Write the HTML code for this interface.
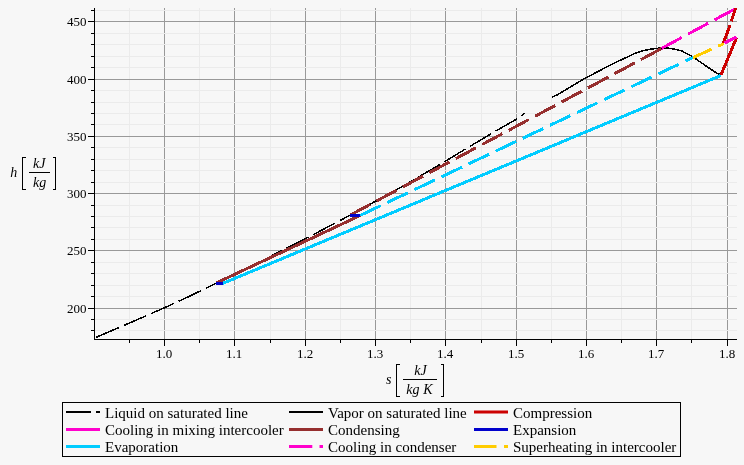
<!DOCTYPE html>
<html><head><meta charset="utf-8"><title>h-s diagram</title>
<style>html,body{margin:0;padding:0;background:#f7f7f7;}body{width:744px;height:465px;overflow:hidden;font-family:"Liberation Serif",serif;}svg{display:block;will-change:transform;opacity:0.999;}text{font-family:"Liberation Serif",serif;fill:#000;}</style>
</head><body>
<svg width="744" height="465" viewBox="0 0 744 465">
<rect x="0" y="0" width="744" height="465" fill="#f7f7f7"/>
<g stroke-width="1" shape-rendering="crispEdges">
<line x1="129.50" y1="8" x2="129.50" y2="339.5" stroke="#ebebeb"/>
<line x1="199.50" y1="8" x2="199.50" y2="339.5" stroke="#ebebeb"/>
<line x1="270.50" y1="8" x2="270.50" y2="339.5" stroke="#ebebeb"/>
<line x1="340.50" y1="8" x2="340.50" y2="339.5" stroke="#ebebeb"/>
<line x1="410.50" y1="8" x2="410.50" y2="339.5" stroke="#ebebeb"/>
<line x1="481.50" y1="8" x2="481.50" y2="339.5" stroke="#ebebeb"/>
<line x1="551.50" y1="8" x2="551.50" y2="339.5" stroke="#ebebeb"/>
<line x1="621.50" y1="8" x2="621.50" y2="339.5" stroke="#ebebeb"/>
<line x1="691.50" y1="8" x2="691.50" y2="339.5" stroke="#ebebeb"/>
<line x1="164.50" y1="8" x2="164.50" y2="339.5" stroke="#999999"/>
<line x1="234.50" y1="8" x2="234.50" y2="339.5" stroke="#999999"/>
<line x1="305.50" y1="8" x2="305.50" y2="339.5" stroke="#999999"/>
<line x1="375.50" y1="8" x2="375.50" y2="339.5" stroke="#999999"/>
<line x1="445.50" y1="8" x2="445.50" y2="339.5" stroke="#999999"/>
<line x1="516.50" y1="8" x2="516.50" y2="339.5" stroke="#999999"/>
<line x1="586.50" y1="8" x2="586.50" y2="339.5" stroke="#999999"/>
<line x1="656.50" y1="8" x2="656.50" y2="339.5" stroke="#999999"/>
<line x1="727.50" y1="8" x2="727.50" y2="339.5" stroke="#999999"/>
<line x1="94.5" y1="330.50" x2="737" y2="330.50" stroke="#ebebeb"/>
<line x1="94.5" y1="319.50" x2="737" y2="319.50" stroke="#ebebeb"/>
<line x1="94.5" y1="296.50" x2="737" y2="296.50" stroke="#ebebeb"/>
<line x1="94.5" y1="285.50" x2="737" y2="285.50" stroke="#ebebeb"/>
<line x1="94.5" y1="273.50" x2="737" y2="273.50" stroke="#ebebeb"/>
<line x1="94.5" y1="262.50" x2="737" y2="262.50" stroke="#ebebeb"/>
<line x1="94.5" y1="239.50" x2="737" y2="239.50" stroke="#ebebeb"/>
<line x1="94.5" y1="227.50" x2="737" y2="227.50" stroke="#ebebeb"/>
<line x1="94.5" y1="216.50" x2="737" y2="216.50" stroke="#ebebeb"/>
<line x1="94.5" y1="205.50" x2="737" y2="205.50" stroke="#ebebeb"/>
<line x1="94.5" y1="182.50" x2="737" y2="182.50" stroke="#ebebeb"/>
<line x1="94.5" y1="170.50" x2="737" y2="170.50" stroke="#ebebeb"/>
<line x1="94.5" y1="159.50" x2="737" y2="159.50" stroke="#ebebeb"/>
<line x1="94.5" y1="147.50" x2="737" y2="147.50" stroke="#ebebeb"/>
<line x1="94.5" y1="124.50" x2="737" y2="124.50" stroke="#ebebeb"/>
<line x1="94.5" y1="113.50" x2="737" y2="113.50" stroke="#ebebeb"/>
<line x1="94.5" y1="102.50" x2="737" y2="102.50" stroke="#ebebeb"/>
<line x1="94.5" y1="90.50" x2="737" y2="90.50" stroke="#ebebeb"/>
<line x1="94.5" y1="67.50" x2="737" y2="67.50" stroke="#ebebeb"/>
<line x1="94.5" y1="56.50" x2="737" y2="56.50" stroke="#ebebeb"/>
<line x1="94.5" y1="44.50" x2="737" y2="44.50" stroke="#ebebeb"/>
<line x1="94.5" y1="33.50" x2="737" y2="33.50" stroke="#ebebeb"/>
<line x1="94.5" y1="10.50" x2="737" y2="10.50" stroke="#ebebeb"/>
<line x1="94.5" y1="308.50" x2="737" y2="308.50" stroke="#999999"/>
<line x1="94.5" y1="250.50" x2="737" y2="250.50" stroke="#999999"/>
<line x1="94.5" y1="193.50" x2="737" y2="193.50" stroke="#999999"/>
<line x1="94.5" y1="136.50" x2="737" y2="136.50" stroke="#999999"/>
<line x1="94.5" y1="79.50" x2="737" y2="79.50" stroke="#999999"/>
<line x1="94.5" y1="21.50" x2="737" y2="21.50" stroke="#999999"/>
</g>
<g shape-rendering="crispEdges">
<path d="M96.25,337.25 L130.00,322.80 L164.60,307.70 L190.00,296.00 L216.20,283.20 L250.00,266.80 L287.50,247.70 L313.30,234.60 L334.80,223.30 L350.00,215.30 L376.00,201.00 L403.75,185.60 L438.75,165.20 L465.00,149.30 L490.30,134.20 L516.80,118.90 L524.70,113.30" fill="none" stroke="#000" stroke-width="1.5" stroke-dasharray="24.7 5.3"/>
<path d="M552.00,97.10 L557.70,94.60 L570.00,87.20 L583.00,79.40 L604.50,68.10 L610.00,65.30 L620.00,60.40 L626.10,57.60 L634.20,53.60 L642.30,50.90 L650.30,49.20 L658.40,48.20 L661.60,47.90 L666.00,48.00 L671.30,48.50 L677.70,49.80 L682.60,51.20 L685.80,53.20 L690.60,55.40 L693.00,56.60 L696.30,59.20 L700.30,62.10 L706.80,66.50 L713.20,70.80 L717.30,73.40 L720.50,74.30" fill="none" stroke="#000" stroke-width="1.5" stroke-linejoin="round"/>
<line x1="223" y1="283.3" x2="721" y2="75.5" stroke="#00ccff" stroke-width="3"/>
<line x1="360.2" y1="215.4" x2="693" y2="57.5" stroke="#00ccff" stroke-width="3" stroke-dasharray="22.6 7.4"/>
<line x1="691" y1="58.5" x2="724" y2="43.6" stroke="#ffcc00" stroke-width="3" stroke-dasharray="22.5 7.5"/>
<line x1="685.8" y1="60.9" x2="693" y2="57.5" stroke="#00ccff" stroke-width="3"/>
<line x1="216.2" y1="283.0" x2="360.4" y2="215.4" stroke="#962f2f" stroke-width="3"/>
<line x1="350" y1="215.2" x2="661.5" y2="48.6" stroke="#962f2f" stroke-width="3" stroke-dasharray="22.9 7.1"/>
<line x1="661.7" y1="48.3" x2="735.5" y2="8.6" stroke="#ff00cc" stroke-width="3" stroke-dasharray="22.9 7.1"/>
<line x1="720.9" y1="75.2" x2="736.7" y2="37.2" stroke="#cc0000" stroke-width="3"/>
<line x1="723.5" y1="42.9" x2="730" y2="25.3" stroke="#cc0000" stroke-width="3"/>
<line x1="731.3" y1="21.4" x2="735.7" y2="8.1" stroke="#cc0000" stroke-width="3"/>
<line x1="724.6" y1="43.1" x2="736.6" y2="36.9" stroke="#ff00cc" stroke-width="3"/>
<rect x="216" y="282" width="7.3" height="3" fill="#0000cc"/>
<rect x="350" y="214" width="10.2" height="3" fill="#0000cc"/>
</g>
<g stroke="#000" stroke-width="1" shape-rendering="crispEdges">
<line x1="94.5" y1="8" x2="94.5" y2="340.0"/>
<line x1="94.0" y1="339.5" x2="737" y2="339.5"/>
<line x1="91.0" y1="330.50" x2="94.5" y2="330.50"/>
<line x1="91.0" y1="319.50" x2="94.5" y2="319.50"/>
<line x1="88.0" y1="308.50" x2="94.5" y2="308.50"/>
<line x1="91.0" y1="296.50" x2="94.5" y2="296.50"/>
<line x1="91.0" y1="285.50" x2="94.5" y2="285.50"/>
<line x1="91.0" y1="273.50" x2="94.5" y2="273.50"/>
<line x1="91.0" y1="262.50" x2="94.5" y2="262.50"/>
<line x1="88.0" y1="250.50" x2="94.5" y2="250.50"/>
<line x1="91.0" y1="239.50" x2="94.5" y2="239.50"/>
<line x1="91.0" y1="227.50" x2="94.5" y2="227.50"/>
<line x1="91.0" y1="216.50" x2="94.5" y2="216.50"/>
<line x1="91.0" y1="205.50" x2="94.5" y2="205.50"/>
<line x1="88.0" y1="193.50" x2="94.5" y2="193.50"/>
<line x1="91.0" y1="182.50" x2="94.5" y2="182.50"/>
<line x1="91.0" y1="170.50" x2="94.5" y2="170.50"/>
<line x1="91.0" y1="159.50" x2="94.5" y2="159.50"/>
<line x1="91.0" y1="147.50" x2="94.5" y2="147.50"/>
<line x1="88.0" y1="136.50" x2="94.5" y2="136.50"/>
<line x1="91.0" y1="124.50" x2="94.5" y2="124.50"/>
<line x1="91.0" y1="113.50" x2="94.5" y2="113.50"/>
<line x1="91.0" y1="102.50" x2="94.5" y2="102.50"/>
<line x1="91.0" y1="90.50" x2="94.5" y2="90.50"/>
<line x1="88.0" y1="79.50" x2="94.5" y2="79.50"/>
<line x1="91.0" y1="67.50" x2="94.5" y2="67.50"/>
<line x1="91.0" y1="56.50" x2="94.5" y2="56.50"/>
<line x1="91.0" y1="44.50" x2="94.5" y2="44.50"/>
<line x1="91.0" y1="33.50" x2="94.5" y2="33.50"/>
<line x1="88.0" y1="21.50" x2="94.5" y2="21.50"/>
<line x1="91.0" y1="10.50" x2="94.5" y2="10.50"/>
<line x1="129.50" y1="339.5" x2="129.50" y2="343.0"/>
<line x1="164.50" y1="339.5" x2="164.50" y2="346.0"/>
<line x1="199.50" y1="339.5" x2="199.50" y2="343.0"/>
<line x1="234.50" y1="339.5" x2="234.50" y2="346.0"/>
<line x1="270.50" y1="339.5" x2="270.50" y2="343.0"/>
<line x1="305.50" y1="339.5" x2="305.50" y2="346.0"/>
<line x1="340.50" y1="339.5" x2="340.50" y2="343.0"/>
<line x1="375.50" y1="339.5" x2="375.50" y2="346.0"/>
<line x1="410.50" y1="339.5" x2="410.50" y2="343.0"/>
<line x1="445.50" y1="339.5" x2="445.50" y2="346.0"/>
<line x1="481.50" y1="339.5" x2="481.50" y2="343.0"/>
<line x1="516.50" y1="339.5" x2="516.50" y2="346.0"/>
<line x1="551.50" y1="339.5" x2="551.50" y2="343.0"/>
<line x1="586.50" y1="339.5" x2="586.50" y2="346.0"/>
<line x1="621.50" y1="339.5" x2="621.50" y2="343.0"/>
<line x1="656.50" y1="339.5" x2="656.50" y2="346.0"/>
<line x1="691.50" y1="339.5" x2="691.50" y2="343.0"/>
<line x1="727.50" y1="339.5" x2="727.50" y2="346.0"/>
</g>
<g font-size="13px">
<text x="86.5" y="313.0" text-anchor="end">200</text>
<text x="86.5" y="255.0" text-anchor="end">250</text>
<text x="86.5" y="198.0" text-anchor="end">300</text>
<text x="86.5" y="141.0" text-anchor="end">350</text>
<text x="86.5" y="84.0" text-anchor="end">400</text>
<text x="86.5" y="26.0" text-anchor="end">450</text>
<text x="164.0" y="358" text-anchor="middle">1.0</text>
<text x="234.0" y="358" text-anchor="middle">1.1</text>
<text x="305.0" y="358" text-anchor="middle">1.2</text>
<text x="375.0" y="358" text-anchor="middle">1.3</text>
<text x="445.0" y="358" text-anchor="middle">1.4</text>
<text x="516.0" y="358" text-anchor="middle">1.5</text>
<text x="586.0" y="358" text-anchor="middle">1.6</text>
<text x="656.0" y="358" text-anchor="middle">1.7</text>
<text x="727.0" y="358" text-anchor="middle">1.8</text>
</g>
<g font-size="14px" font-style="italic">
<text x="10.3" y="176.8">h</text>
<text x="39.3" y="167.6" text-anchor="middle">kJ</text>
<text x="39.6" y="186.5" text-anchor="middle">kg</text>
<text x="386" y="383.8">s</text>
<text x="420.5" y="374.8" text-anchor="middle">kJ</text>
<text x="406.3" y="393.6">kg</text>
<text x="423.3" y="393.6">K</text>
</g>
<g stroke="#000" stroke-width="1" fill="none" shape-rendering="crispEdges">
<line x1="29" y1="172.5" x2="50" y2="172.5"/>
<path d="M25.5,157.5 H22.5 V189.5 H25.5"/>
<path d="M52.5,157.5 H55.5 V189.5 H52.5"/>
<line x1="403" y1="379.5" x2="437" y2="379.5"/>
<path d="M399.5,364.5 H396.5 V396.5 H399.5"/>
<path d="M440.5,364.5 H443.5 V396.5 H440.5"/>
</g>
<rect x="62.5" y="402.5" width="618" height="54" fill="#f7f7f7" stroke="#000" stroke-width="1" shape-rendering="crispEdges"/>
<g font-size="15px">
<line x1="66" y1="412" x2="100" y2="412" stroke="#000" stroke-width="2" stroke-dasharray="25 5"/>
<text x="105" y="417.5">Liquid on saturated line</text>
<line x1="66" y1="429.5" x2="100" y2="429.5" stroke="#ff00cc" stroke-width="3"/>
<text x="105" y="434.5">Cooling in mixing intercooler</text>
<line x1="66" y1="446.5" x2="100" y2="446.5" stroke="#00ccff" stroke-width="3"/>
<text x="105" y="451.5">Evaporation</text>
<line x1="289" y1="412" x2="323" y2="412" stroke="#000" stroke-width="2"/>
<text x="328" y="417.5">Vapor on saturated line</text>
<line x1="289" y1="429.5" x2="323" y2="429.5" stroke="#962f2f" stroke-width="3"/>
<text x="328" y="434.5">Condensing</text>
<line x1="289" y1="446.5" x2="323" y2="446.5" stroke="#ff00cc" stroke-width="3" stroke-dasharray="23.3 7.2"/>
<text x="328" y="451.5">Cooling in condenser</text>
<line x1="474" y1="412" x2="508" y2="412" stroke="#cc0000" stroke-width="3"/>
<text x="513" y="417.5">Compression</text>
<line x1="474" y1="429.5" x2="508" y2="429.5" stroke="#0000cc" stroke-width="3"/>
<text x="513" y="434.5">Expansion</text>
<line x1="474" y1="446.5" x2="508" y2="446.5" stroke="#ffcc00" stroke-width="3" stroke-dasharray="22.5 7.5"/>
<text x="513" y="451.5">Superheating in intercooler</text>
</g>
</svg>
</body></html>
